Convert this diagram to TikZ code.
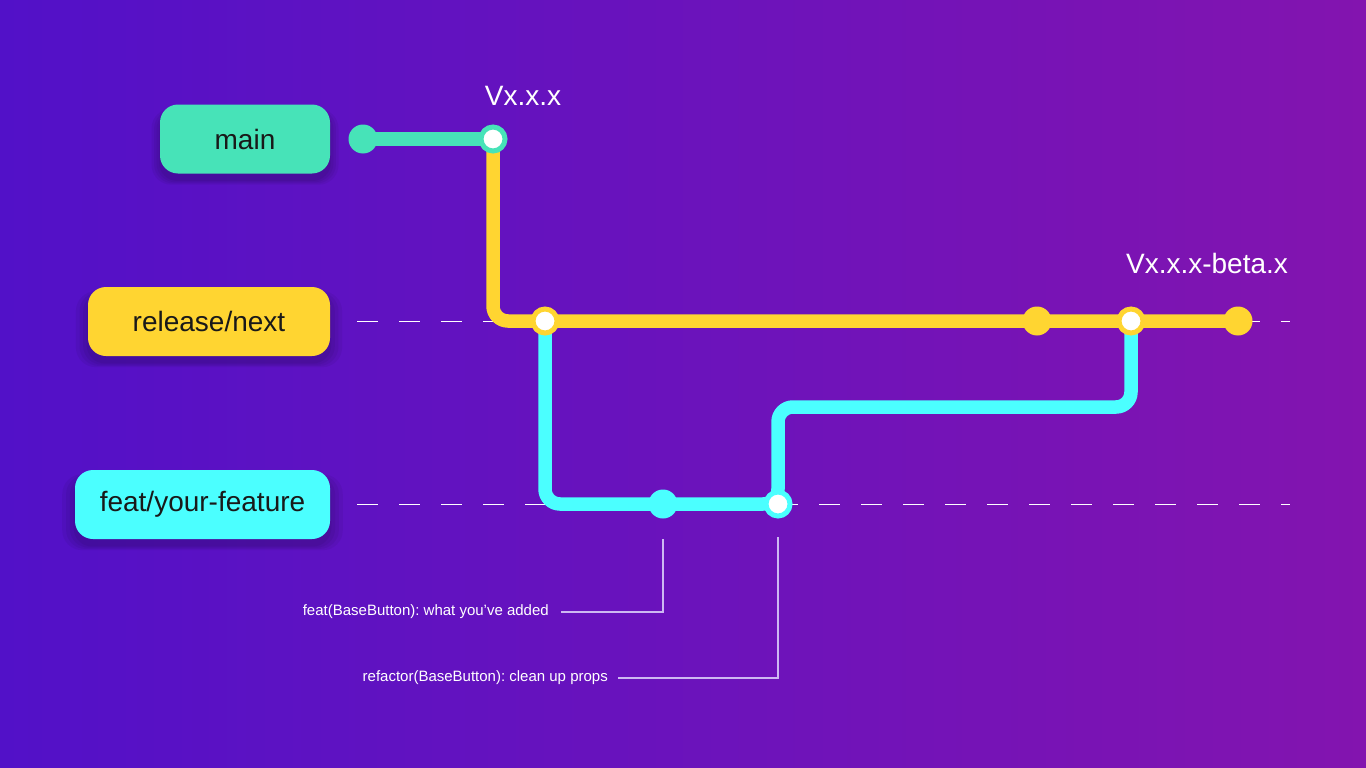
\documentclass[tikz,border=0pt]{standalone}
\usepackage{fontspec}
\setmainfont{Liberation Sans}
\usepackage{tikz}
\usetikzlibrary{positioning,shadows}

\definecolor{bgleft}{HTML}{5211C8}
\definecolor{bgright}{HTML}{8314AF}
\definecolor{mainteal}{HTML}{47E3B8}
\definecolor{relyellow}{HTML}{FFD531}
\definecolor{featcyan}{HTML}{4BFFFF}
\definecolor{notegrey}{HTML}{CDB8F2}

\pgfdeclarelayer{bg}
\pgfdeclarelayer{wire}
\pgfsetlayers{bg,wire,main}

\tikzset{
  softshadow/.style={drop shadow={shadow xshift=0pt, shadow yshift=-7pt, opacity=.05, fill=black, shadow scale=#1}},
  branchbox/.style={rounded corners=18pt, minimum height=69pt, inner sep=0pt,
    text=black!90, font=\fontsize{28}{32}\selectfont,
    softshadow=1.10, softshadow=1.07, softshadow=1.04, softshadow=1.01},
  commitdot/.style={circle, fill=#1, minimum size=29pt, inner sep=0pt},
  commitring/.style={circle, fill=white, draw=#1, line width=5pt, minimum size=24pt, inner sep=0pt},
  branchline/.style={line width=13.5pt, rounded corners=15pt, draw=#1},
  guide/.style={white, line width=1.2pt, dash pattern=on 21pt off 21pt},
  tagtext/.style={text=white, font=\fontsize{28}{32}\selectfont},
  notetext/.style={text=white, font=\fontsize{15}{18}\selectfont\frenchspacing, inner sep=0pt, anchor=east},
  noteline/.style={notegrey, line width=1.3pt}
}

\begin{document}
\begin{tikzpicture}[x=1pt,y=-1pt]

\useasboundingbox (0,0) rectangle (1366,768);
\begin{pgfonlayer}{bg}
\shade[left color=bgleft, right color=bgright] (0,0) rectangle (1366,768);
\end{pgfonlayer}

% branch names
\node[branchbox, fill=mainteal, minimum width=170pt] (bmain) at (245,139) {main};
\node[branchbox, fill=relyellow, minimum width=242pt] (brelease) at (209,321.5) {release/next};
\node[branchbox, fill=featcyan, minimum width=255pt] (bfeat) at (202.5,504.5) {feat/your-feature};

% commits
\node[commitdot=mainteal] (m0) at (363,139) {};
\node[commitring=mainteal] (m1) at (493,139) {};

\node[commitring=relyellow] (r1) at (545,321) {};
\node[commitdot=relyellow] (r2) at (1037,321) {};
\node[commitring=relyellow] (r3) at (1131,321) {};
\node[commitdot=relyellow] (r4) at (1238,321) {};

\node[commitdot=featcyan] (f1) at (663,504) {};
\node[commitring=featcyan] (f2) at (778,504) {};
\coordinate (hop) at (1131,407);

% tags
\node[tagtext] (tagmain) at (523,96) {Vx.x.x};
\node[tagtext] (tagbeta) at (1207,263) {Vx.x.x-beta.x};

% guides and branch lines
\begin{pgfonlayer}{bg}
\draw[guide] ([xshift=27pt]brelease.east) -- ++(933,0);
\draw[guide] ([xshift=27pt]bfeat.east) -- ++(933,0);
\end{pgfonlayer}

\begin{pgfonlayer}{wire}
\draw[branchline=mainteal] (m0.center) -- (m1.center);
\draw[branchline=relyellow] (m1.center) |- (r1.center) -- (r4.center);
\draw[branchline=featcyan] (r1.center) |- (f1.center) -- (f2.center) |- (hop) -- (r3.center);
\end{pgfonlayer}

% commit notes
\node[notetext] (note1) at (549,612) {feat(BaseButton): what you’ve added};
\node[notetext] (note2) at (608,678) {refactor(BaseButton): clean up props};

\draw[noteline] ([yshift=-35pt]f1.center) |- ([xshift=12pt]note1.east);
\draw[noteline] ([yshift=-33pt]f2.center) |- ([xshift=10pt]note2.east);

\end{tikzpicture}
\end{document}
